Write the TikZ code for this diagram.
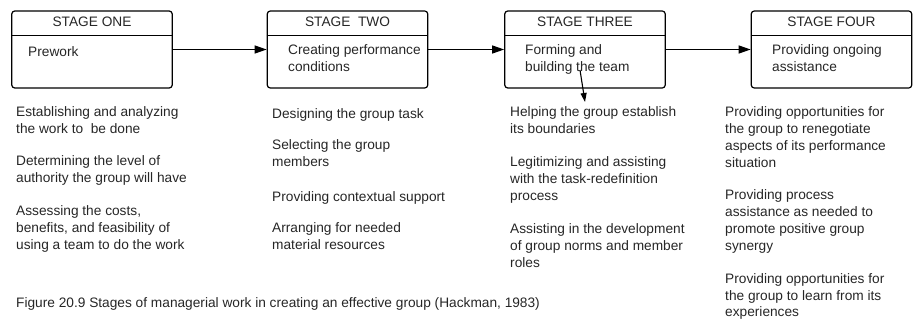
\documentclass[tikz,border=0pt]{standalone}
\usepackage{fontspec}
\setmainfont{Liberation Sans}
\usetikzlibrary{arrows.meta}

\tikzset{
  stagebox/.style={draw, line width=1.2pt, rounded corners=3pt, minimum width=160.5pt, minimum height=77pt, inner sep=0pt},
  stagetitle/.style={anchor=base, inner sep=0pt, text=black!85},
  stagetext/.style={anchor=north west, yshift=11.76pt, align=left, inner sep=0pt, text=black!85, execute at begin node=\strut},
  flow/.style={line width=1.3pt, -{Triangle[length=12pt,width=8pt]}}
}

\begin{document}
\begin{tikzpicture}[x=1pt, y=-1pt, font=\fontsize{13.7}{16.8}\selectfont]
    \useasboundingbox (0,0) rectangle (918,321);
    % boxes
    \node [stagebox] (s1) at (92, 49.5) {};
    \node [stagebox] (s2) at (347.5, 49.5) {};
    \node [stagebox] (s3) at (585, 49.5) {};
    \node [stagebox] (s4) at (831.5, 49.5) {};
    \foreach \s in {s1,s2,s3,s4}
        \draw [line width=1.2pt] ([yshift=-25pt]\s.north west) -- ([yshift=-25pt]\s.north east);
    % titles
    \node [stagetitle] (t1) at (92, 26.7) {STAGE ONE};
    \node [stagetitle] (t2) at (347.5, 26.7) {STAGE\ \ TWO};
    \node [stagetitle] (t3) at (585, 26.7) {STAGE THREE};
    \node [stagetitle] (t4) at (831.5, 26.7) {STAGE FOUR};
    % box texts
    \node [stagetext] (b1) at (28, 56.5) {Prework};
    \node [stagetext] (b2) at (288, 56.5) {Creating performance\\conditions};
    \node [stagetext] (b3) at (525, 56.5) {Forming and\\building the team};
    \node [stagetext] (b4) at (772, 56.5) {Providing ongoing\\assistance};
    % arrows
    \draw [flow] (s1.east) -- (s2.west);
    \draw [flow] (s2.east) -- (s3.west);
    \draw [flow] (s3.east) -- (s4.west);
    \coordinate (a3) at (580, 70);
    \coordinate (a3end) at (585, 102);
    \draw [line width=1.1pt, -{Triangle[length=9pt,width=6pt]}] (a3) -- (a3end);
    % stage one
    \node [stagetext] (p11) at (16, 118.5) {Establishing and analyzing\\the work to\ \ be done};
    \node [stagetext] (p12) at (16, 167.5) {Determining the level of\\authority the group will have};
    \node [stagetext] (p13) at (16, 217.5) {Assessing the costs,\\benefits, and feasibility of\\using a team to do the work};
    % stage two
    \node [stagetext] (p21) at (272, 118.5) {Designing the group task};
    \node [stagetext] (p22) at (272, 151.5) {Selecting the group\\members};
    \node [stagetext] (p23) at (272, 201.5) {Providing contextual support};
    \node [stagetext] (p24) at (272, 234.5) {Arranging for needed\\material resources};
    % stage three
    \node [stagetext] (p31) at (510, 118.5) {Helping the group establish\\its boundaries};
    \node [stagetext] (p32) at (510, 168.5) {Legitimizing and assisting\\with the task-redefinition\\process};
    \node [stagetext] (p33) at (510, 235.5) {Assisting in the development\\of group norms and member\\roles};
    % stage four
    \node [stagetext] (p41) at (725, 118.5) {Providing opportunities for\\the group to renegotiate\\aspects of its performance\\situation};
    \node [stagetext] (p42) at (725, 201.5) {Providing process\\assistance as needed to\\promote positive group\\synergy};
    \node [stagetext] (p43) at (725, 285) {Providing opportunities for\\the group to learn from its\\experiences};
    % caption
    \node [stagetext] (cap) at (16, 307.5) {Figure 20.9 Stages of managerial work in creating an effective group (Hackman, 1983)};
\end{tikzpicture}
\end{document}
